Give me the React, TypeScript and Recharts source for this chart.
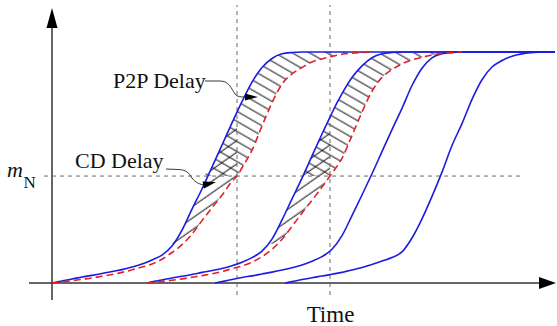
import React from 'react'
import { ComposedChart, Line, Area, XAxis, YAxis, ReferenceLine, ReferenceDot } from 'recharts'

// curves as [time, level]; time 0 = origin, level 100 = saturation
const blue1: [number, number][] = [
  [0, 0], [10, 0.9], [20, 1.7], [30, 2.6], [40, 3.3], [50, 4.1], [60, 5.0], [70, 5.8], [80, 6.9],
  [90, 8.2], [100, 10.0], [110, 12.1], [120, 16.0], [130, 22.9], [140, 32.0], [150, 40.7], [160, 50.2],
  [170, 59.7], [180, 69.3], [185, 74.0], [190, 78.5], [200, 87.0], [210, 93.3], [220, 97.2], [230, 99.2],
  [240, 99.8], [250, 100], [260, 100], [270, 100], [280, 100], [290, 100], [300, 100], [310, 100],
  [320, 100], [503, 100],
]
const red1: [number, number][] = [
  [0, 0], [10, 0.5], [20, 1.0], [30, 1.6], [40, 2.2], [50, 2.9], [60, 3.7], [70, 4.6], [80, 5.7],
  [90, 6.9], [100, 8.2], [110, 10.3], [120, 13.2], [130, 16.6], [140, 21.2], [150, 27.0], [160, 32.6],
  [170, 38.0], [180, 44.0], [185, 46.3], [190, 49.9], [200, 57.5], [210, 68.0], [220, 78.0], [230, 86.1],
  [240, 90.5], [250, 93.3], [260, 95.7], [270, 97.0], [280, 98.1], [290, 99.0], [300, 99.5], [310, 99.8],
  [320, 100],
]
const blue2: [number, number][] = [
  [95, 0], [100, 0.5], [110, 1.3], [120, 2.2], [130, 2.9], [140, 3.7], [150, 4.6], [160, 5.4], [170, 6.3],
  [180, 7.5], [190, 9.0], [200, 11.0], [210, 13.8], [220, 19.0], [230, 27.3], [240, 36.4], [250, 45.4],
  [260, 55.0], [270, 64.5], [278, 71.8], [280, 73.7], [290, 82.0], [300, 89.0], [310, 94.0], [320, 97.5],
  [330, 99.2], [340, 99.8], [350, 100], [360, 100], [370, 100], [380, 100], [390, 100], [400, 100],
  [410, 100], [503, 100],
]
const red2: [number, number][] = [
  [95, 0], [100, 0.2], [110, 0.7], [120, 1.2], [130, 1.8], [140, 2.5], [150, 3.2], [160, 4.0], [170, 5.0],
  [180, 6.2], [190, 7.4], [200, 9.0], [210, 11.4], [220, 14.6], [230, 18.9], [240, 24.5], [250, 30.3],
  [260, 35.8], [270, 41.5], [278, 46.3], [280, 47.5], [290, 54.0], [300, 63.8], [310, 74.0], [320, 83.0],
  [330, 89.0], [340, 92.4], [350, 94.9], [360, 96.6], [370, 97.7], [380, 98.7], [390, 99.4], [400, 99.7],
  [410, 100],
]
const blue3: [number, number][] = [
  [163, 0], [170, 0.6], [180, 1.5], [190, 2.4], [200, 3.1], [210, 3.9], [220, 4.7], [230, 5.6], [240, 6.6],
  [250, 7.8], [260, 9.4], [270, 11.4], [280, 14.6], [290, 20.5], [300, 29.2], [310, 38.1], [320, 47.3],
  [330, 56.9], [340, 66.4], [350, 75.6], [360, 85.5], [370, 93.0], [380, 97.5], [390, 99.3], [400, 99.8],
  [410, 100], [503, 100],
]
const blue4: [number, number][] = [
  [233, 0], [240, 0.6], [250, 1.5], [260, 2.3], [270, 3.0], [280, 3.8], [290, 4.6], [300, 5.6], [310, 6.7],
  [320, 8.0], [330, 9.5], [340, 11.0], [350, 13.5], [360, 19.5], [370, 27.8], [380, 37.5], [390, 48.0],
  [400, 59.5], [410, 69.0], [420, 79.5], [430, 88.0], [440, 93.5], [450, 96.3], [460, 98.2], [470, 99.2],
  [480, 99.7], [490, 100], [503, 100],
]

const mN = 46.3 // threshold level m_N
const syncTimes = [185, 278] // dashed verticals where red curves hit m_N
const cdBand = [17, 67.5] // vertical extent of the "/" hatching

const BLUE = '#1c1ce0'
const RED = '#e3202a'
const GREY = '#6a6a6a'
const AXIS = '#333'
const serif = "'Liberation Serif', 'Times New Roman', serif"

const rows = (pts: [number, number][]) => pts.map(([t, v]) => ({ t, v }))

// range between a blue curve (upper) and its red curve (lower), clipped to [lo, hi]
const band = (upper: [number, number][], lower: [number, number][], lo: number, hi: number, tMax = Infinity) => {
  const all = upper
    .filter(([t]) => t <= tMax && lower.some((p) => p[0] === t))
    .map(([t, b]) => {
      const r = lower.find((p) => p[0] === t)![1]
      const a = Math.max(r, lo)
      const c = Math.min(b, hi)
      return { t, v: c > a ? [a, c] : [a, a], open: c > a }
    })
  // keep the open part plus one closing point on each side
  return all
    .filter((d, i) => d.open || all[i - 1]?.open || all[i + 1]?.open)
    .map(({ t, v }) => ({ t, v }))
}

const p2pBands = [band(blue1, red1, mN, 100), band(blue2, red2, mN, 100)]
const cdBands = [
  band(blue1, red1, cdBand[0], cdBand[1], syncTimes[0]),
  band(blue2, red2, cdBand[0], cdBand[1], syncTimes[1]),
]

const txt = (s: string, size: number, anchor: 'start' | 'middle' = 'start') => (p: any) => (
  <text x={p.cx} y={p.cy} fontFamily={serif} fontSize={size} fill="#111" textAnchor={anchor}>
    {s}
  </text>
)

export default function App() {
  return (
    <div style={{ position: 'absolute', left: 0, top: 0, background: '#fff' }}>
      <ComposedChart width={557} height={326} margin={{ top: 0, right: 0, bottom: 0, left: 0 }}>
        <defs>
          <pattern id="hatchBack" patternUnits="userSpaceOnUse" width="10" height="8.7" patternTransform="rotate(30)">
            <line x1="0" y1="4" x2="10" y2="4" stroke="#111" strokeWidth="1" />
          </pattern>
          <pattern id="hatchFwd" patternUnits="userSpaceOnUse" width="10" height="9.5" patternTransform="rotate(-35)">
            <line x1="0" y1="4" x2="10" y2="4" stroke="#111" strokeWidth="1" />
          </pattern>
        </defs>
        <XAxis type="number" dataKey="t" domain={[-52, 505]} allowDataOverflow hide />
        <YAxis type="number" domain={[-18.61, 122.51]} allowDataOverflow hide />

        {p2pBands.map((d, i) => (
          <Area key={'p' + i} data={d} dataKey="v" type="monotone" stroke="none" fill="url(#hatchBack)"
            fillOpacity={1} dot={false} activeDot={false} isAnimationActive={false} />
        ))}
        {cdBands.map((d, i) => (
          <Area key={'c' + i} data={d} dataKey="v" type="monotone" stroke="none" fill="url(#hatchFwd)"
            fillOpacity={1} dot={false} activeDot={false} isAnimationActive={false} />
        ))}

        {/* axes */}
        <ReferenceLine segment={[{ x: 0, y: -7.4 }, { x: 0, y: 110.4 }]} stroke={AXIS} strokeWidth={1.5} ifOverflow="visible" />
        <ReferenceLine segment={[{ x: -23, y: 0 }, { x: 488, y: 0 }]} stroke={AXIS} strokeWidth={1.5} ifOverflow="visible" />
        {/* guides */}
        <ReferenceLine segment={[{ x: -8, y: mN }, { x: 468, y: mN }]} stroke={GREY} strokeDasharray="4 4" ifOverflow="visible" />
        {syncTimes.map((t) => (
          <ReferenceLine key={t} segment={[{ x: t, y: -5.2 }, { x: t, y: 120.3 }]} stroke={GREY}
            strokeDasharray="4 4" ifOverflow="visible" />
        ))}

        {[blue1, blue2, blue3, blue4].map((c, i) => (
          <Line key={'b' + i} data={rows(c)} dataKey="v" type="monotone" stroke={BLUE} strokeWidth={1.6}
            dot={false} activeDot={false} isAnimationActive={false} />
        ))}
        {[red1, red2].map((c, i) => (
          <Line key={'r' + i} data={rows(c)} dataKey="v" type="monotone" stroke={RED} strokeWidth={1.6}
            strokeDasharray="7 4" dot={false} activeDot={false} isAnimationActive={false} />
        ))}

        {/* arrow heads */}
        <ReferenceDot x={0} y={119.05} ifOverflow="visible"
          shape={(p: any) => <polygon points={`${p.cx},${p.cy} ${p.cx - 5.5},${p.cy + 20} ${p.cx + 5.5},${p.cy + 20}`} fill="#000" />} />
        <ReferenceDot x={504} y={0} ifOverflow="visible"
          shape={(p: any) => <polygon points={`${p.cx},${p.cy} ${p.cx - 17},${p.cy - 6} ${p.cx - 17},${p.cy + 6}`} fill="#000" />} />

        {/* labels and leaders */}
        <ReferenceDot x={61} y={84.4} ifOverflow="visible" shape={txt('P2P Delay', 22)} />
        <ReferenceDot x={23} y={49.8} ifOverflow="visible" shape={txt('CD Delay', 22)} />
        <ReferenceDot x={278.5} y={-16.9} ifOverflow="visible" shape={txt('Time', 23, 'middle')} />
        <ReferenceDot x={-45} y={45.9} ifOverflow="visible"
          shape={(p: any) => (
            <text x={p.cx} y={p.cy} fontFamily={serif} fill="#111">
              <tspan fontStyle="italic" fontSize={22}>m</tspan>
              <tspan fontSize={17} dx={0.5} dy={11}>N</tspan>
            </text>
          )} />
        <ReferenceDot x={206} y={80.52} ifOverflow="visible"
          shape={(p: any) => (
            <g transform={`translate(${p.cx},${p.cy})`}>
              <path d="M-53,-16 L-38,-16 C-29,-16 -27,-9 -23,-3 C-21,0 -17,0 -12,0" fill="none" stroke="#222" strokeWidth={0.9} />
              <polygon points="0,0 -13,-3.5 -13,3.5" fill="#000" />
            </g>
          )} />
        <ReferenceDot x={164} y={43.72} ifOverflow="visible"
          shape={(p: any) => (
            <g transform={`translate(${p.cx},${p.cy})`}>
              <path d="M-50,-13 L-38,-12.5 C-30,-12.5 -27,-9 -24,-4 C-22,-1 -18,2 -12,3" fill="none" stroke="#222" strokeWidth={0.9} />
              <polygon points="0,0 -11.8,6.4 -13.5,-0.4" fill="#000" />
            </g>
          )} />
      </ComposedChart>
    </div>
  )
}
